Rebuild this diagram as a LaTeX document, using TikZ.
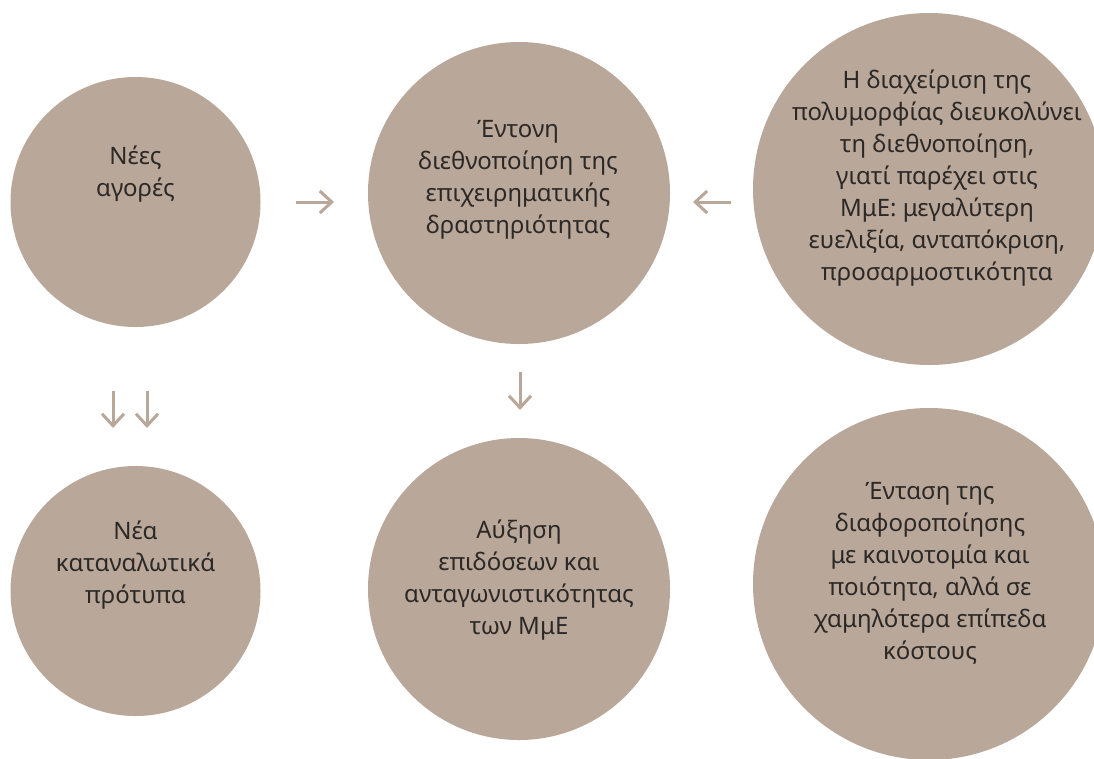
\documentclass[tikz,border=0pt]{standalone}
\usepackage{fontspec}
\setmainfont{Noto Sans}
\usetikzlibrary{arrows.meta}

\definecolor{arena}{HTML}{B9A89A}
\definecolor{tinta}{HTML}{2B2826}

\tikzset{
  burbuja/.style={circle, fill=arena, inner sep=0pt},
  texto/.style={align=center, text=tinta, font=\fontsize{24}{32}\selectfont},
  flecha/.style={draw=arena, line width=3pt,
    -{Straight Barb[length=12pt, width=22pt, line width=3pt]}}
}

\begin{document}
\begin{tikzpicture}[x=1pt, y=-1pt]

\useasboundingbox (0,0) rectangle (1094,758);

% ── Fila superior ─────────────────────────────────────────────
\node[burbuja, minimum size=250pt] (mercados)  at (135.5, 202) {};
\node[burbuja, minimum size=302pt] (intern)    at (519,   193) {};
\node[burbuja, minimum size=352pt] (diversidad) at (929,  189) {};

\node[texto] (t-mercados) at (135.5, 174) {Νέες\\αγορές};
\node[texto] (t-intern)   at (518,   180) {Έντονη\\διεθνοποίηση της\\επιχειρηματικής\\δραστηριότητας};
\node[texto] (t-diversidad) at (937, 178.5)
  {Η διαχείριση της\\πολυμορφίας διευκολύνει\\τη διεθνοποίηση,\\γιατί παρέχει στις\\ΜμΕ: μεγαλύτερη\\ευελιξία, ανταπόκριση,\\προσαρμοστικότητα};

% ── Fila inferior ─────────────────────────────────────────────
\node[burbuja, minimum size=250pt] (consumo)  at (135.5, 591) {};
\node[burbuja, minimum size=302pt] (desempeno) at (519,  589) {};
\node[burbuja, minimum size=352pt] (diferenc) at (929,   584) {};

\node[texto] (t-consumo)   at (135.5, 565) {Νέα\\καταναλωτικά\\πρότυπα};
\node[texto] (t-desempeno) at (519,   580) {Αύξηση\\επιδόσεων και\\ανταγωνιστικότητας\\των ΜμΕ};
\node[texto] (t-diferenc)  at (930,   573)
  {Ένταση της\\διαφοροποίησης\\με καινοτομία και\\ποιότητα, αλλά σε\\χαμηλότερα επίπεδα\\κόστους};

% ── Flechas ───────────────────────────────────────────────────
\coordinate (f1a) at (296, 202);  \coordinate (f1b) at (334, 202);
\coordinate (f2a) at (731, 202);  \coordinate (f2b) at (693, 202);
\coordinate (f3a) at (113, 391);  \coordinate (f3b) at (113, 428);
\coordinate (f4a) at (147, 391);  \coordinate (f4b) at (147, 428);
\coordinate (f5a) at (520, 372);  \coordinate (f5b) at (520, 410);

\draw[flecha] (f1a) -- (f1b);
\draw[flecha] (f2a) -- (f2b);
\draw[flecha] (f3a) -- (f3b);
\draw[flecha] (f4a) -- (f4b);
\draw[flecha] (f5a) -- (f5b);

\end{tikzpicture}
\end{document}
